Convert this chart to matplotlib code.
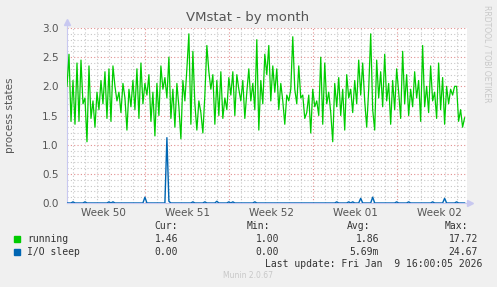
import numpy as np
import matplotlib
matplotlib.use("Agg")
import matplotlib.pyplot as plt
from matplotlib.ticker import FixedLocator, MultipleLocator, NullFormatter

# data: one sample roughly every 4 hours over ~33 days
running = [
    2.00, 2.55, 1.40, 2.10, 1.35, 2.40, 1.40, 2.45, 1.70, 1.80, 1.05, 2.35, 1.45, 1.75, 1.30, 1.90, 1.60, 2.10, 1.70, 2.25, 1.45, 2.30, 1.40, 2.35, 2.00,
    1.75, 1.90, 1.55, 2.05, 1.80, 1.25, 1.95, 1.65, 2.10, 1.60, 2.30, 1.45, 2.40, 1.70, 2.05, 1.85, 2.20, 1.40, 1.90, 1.15, 2.05, 1.50, 2.35, 1.95, 2.15,
    1.80, 2.50, 1.45, 1.95, 1.30, 2.05, 1.65, 1.10, 2.10, 1.75, 2.30, 2.90, 1.35, 2.60, 1.70, 1.25, 1.75, 1.55, 1.20, 1.85, 2.70, 2.25, 1.95, 2.20, 1.35,
    2.10, 1.50, 2.25, 1.45, 1.80, 1.60, 2.15, 1.85, 2.25, 1.50, 2.20, 1.95, 1.75, 2.10, 1.45, 1.90, 2.30, 1.75, 2.05, 1.60, 2.80, 1.25, 2.10, 1.70, 2.55,
    2.20, 2.70, 1.75, 2.35, 1.90, 2.30, 1.60, 2.05, 1.75, 1.35, 1.85, 1.75, 1.95, 2.85, 1.95, 1.70, 2.35, 1.80, 1.85, 1.45, 1.55, 1.85, 1.20, 1.95, 1.65,
    1.75, 1.50, 2.50, 1.35, 2.40, 1.70, 1.90, 1.55, 1.05, 2.05, 1.65, 2.15, 1.50, 1.95, 1.25, 2.20, 1.80, 1.95, 1.55, 2.10, 1.70, 2.45, 1.85, 2.40, 1.75,
    1.30, 1.95, 2.90, 1.60, 1.25, 2.45, 1.80, 2.25, 1.65, 2.55, 1.75, 2.05, 1.35, 2.10, 1.60, 2.30, 1.90, 1.45, 2.60, 1.70, 2.20, 1.50, 1.95, 1.65, 2.25,
    1.80, 2.10, 1.40, 2.70, 1.65, 2.00, 1.55, 2.35, 1.75, 1.90, 1.45, 2.40, 1.60, 2.15, 1.35, 2.00, 1.70, 1.95, 1.85, 2.00, 2.00, 1.40, 1.60, 1.30, 1.46,
]
io_sleep = [
    0, 0, 0, 0.02, 0, 0, 0, 0, 0, 0.02, 0, 0, 0, 0, 0, 0, 0, 0, 0, 0, 0, 0.02, 0, 0.02, 0,
    0, 0, 0, 0, 0, 0, 0, 0, 0, 0, 0, 0, 0, 0, 0.10, 0, 0, 0, 0, 0, 0, 0, 0, 0, 0,
    1.12, 0.03, 0, 0, 0, 0, 0, 0, 0, 0, 0, 0, 0, 0.02, 0, 0, 0, 0, 0, 0.02, 0, 0, 0, 0, 0,
    0.03, 0, 0, 0, 0, 0, 0.02, 0, 0.02, 0, 0, 0, 0, 0, 0, 0, 0, 0, 0, 0.02, 0, 0, 0, 0, 0,
    0, 0, 0, 0, 0, 0, 0, 0, 0, 0, 0, 0, 0, 0, 0, 0, 0, 0, 0, 0, 0, 0, 0, 0, 0,
    0, 0, 0, 0, 0, 0, 0, 0, 0, 0, 0.02, 0, 0, 0, 0, 0, 0.02, 0, 0.02, 0, 0, 0, 0.08, 0, 0,
    0, 0, 0, 0.10, 0, 0, 0, 0, 0, 0, 0, 0, 0, 0, 0, 0.02, 0, 0, 0, 0, 0, 0.02, 0, 0, 0,
    0, 0, 0, 0, 0, 0, 0, 0, 0.02, 0, 0, 0, 0, 0, 0.08, 0, 0, 0, 0, 0, 0.02, 0, 0, 0, 0,
]
week_labels = ["Week 50", "Week 51", "Week 52", "Week 01", "Week 02"]
week_starts = [6.5, 13.5, 20.5, 27.5]   # days from left edge
span = 33.33

legend_names = ["running", "I/O sleep"]
legend_cur = ["1.46", "0.00"]
legend_min = ["1.00", "0.00"]
legend_avg = ["1.86", "5.69m"]
legend_max = ["17.72", "24.67"]

green = "#00CC00"
blue = "#0066B3"
txt = "#555555"
bg = "#F0F0F0"

W, H = 497, 287
fig = plt.figure(figsize=(W / 100, H / 100), dpi=100, facecolor=bg)
ax = fig.add_axes([67 / W, (H - 203) / H, 400 / W, 175 / H])
ax.set_facecolor("white")

days = np.linspace(0, span - 0.2, len(running))
ax.plot(days, running, color=green, lw=0.9, zorder=3)
ax.plot(days, io_sleep, color=blue, lw=1.0, zorder=4)

ax.set_xlim(0, span)
ax.set_ylim(0, 3.0)

# grid
ax.xaxis.set_major_locator(FixedLocator(week_starts))
ax.xaxis.set_minor_locator(FixedLocator([0.5 + k for k in range(33)]))
ax.xaxis.set_major_formatter(NullFormatter())
ax.yaxis.set_major_locator(MultipleLocator(0.5))
ax.yaxis.set_minor_locator(MultipleLocator(0.1))
ax.yaxis.set_major_formatter(matplotlib.ticker.FormatStrFormatter("%.1f"))
ax.grid(which="minor", color="#C8C8C8", lw=0.8, ls=(0, (1, 2)))
ax.grid(which="major", color="#E29090", lw=0.8, ls=(0, (1, 2)))
ax.set_axisbelow(True)
ax.tick_params(which="both", length=0)
ax.tick_params(axis="y", labelsize=7.5, colors=txt, pad=6)

for s in ["top", "right"]:
    ax.spines[s].set_visible(False)
ax.spines["left"].set_color("#C8C8F0")
ax.spines["bottom"].set_color("#C8C8F0")
ax.spines["left"].set_linewidth(0.8)
ax.spines["bottom"].set_linewidth(0.8)
ax.plot([0, 0], [3.0, 3.1], color="#C8C8F0", lw=0.8, clip_on=False)
ax.plot([span, span + 0.25], [0, 0], color="#C8C8F0", lw=0.8, clip_on=False)
ax.plot([0], [3.1], marker="^", color="#C8C8F0", ms=4, clip_on=False)
ax.plot([span + 0.25], [0], marker=">", color="#C8C8F0", ms=4, clip_on=False)

for ws, lab in zip([0] + week_starts, week_labels):
    ax.text(ws + 3.0 if ws == 0 else ws + 3.5, -0.08, lab, ha="center", va="top",
            fontsize=7.5, color=txt, transform=ax.transData)

fig.text(248 / W, 1 - 18 / H, "VMstat - by month", ha="center", va="center",
         fontsize=9.5, color=txt)
fig.text(10 / W, 1 - 115 / H, "process states", rotation=90, ha="center",
         va="center", fontsize=7.5, color=txt)
fig.text(487 / W, 1 - 5 / H, "RRDTOOL / TOBI OETIKER", rotation=270, ha="center",
         va="top", fontsize=5.5, color="#C8C8C8")

# legend block
mono = "DejaVu Sans Mono"
fs = 7
cols = [178, 279, 379, 478]
heads = ["Cur:", "Min:", "Avg:", "Max:"]
fig.text(cols[0] / W, 1 - 226 / H, heads[0], ha="right", va="center", family=mono, fontsize=fs, color="#333333")
fig.text(270 / W, 1 - 226 / H, heads[1], ha="right", va="center", family=mono, fontsize=fs, color="#333333")
fig.text(370 / W, 1 - 226 / H, heads[2], ha="right", va="center", family=mono, fontsize=fs, color="#333333")
fig.text(468 / W, 1 - 226 / H, heads[3], ha="right", va="center", family=mono, fontsize=fs, color="#333333")
for i, (name, col) in enumerate(zip(legend_names, [green, blue])):
    y = 1 - (239 + 13 * i) / H
    fig.patches.append(plt.Rectangle((14 / W, y - 3 / H), 6 / W, 6 / H, transform=fig.transFigure,
                                     color=col, figure=fig))
    fig.text(27 / W, y, name, ha="left", va="center", family=mono, fontsize=fs, color="#333333")
    for c, vals in zip(cols, [legend_cur, legend_min, legend_avg, legend_max]):
        fig.text(c / W, y, vals[i], ha="right", va="center", family=mono, fontsize=fs, color="#333333")

fig.text(482 / W, 1 - 264 / H, "Last update: Fri Jan  9 16:00:05 2026", ha="right", va="center",
         family=mono, fontsize=fs, color="#333333")
fig.text(248 / W, 1 - 276 / H, "Munin 2.0.67", ha="center", va="center", fontsize=5.5,
         color="#C8C8C8")

fig.savefig("out.png", dpi=100, facecolor=bg)
